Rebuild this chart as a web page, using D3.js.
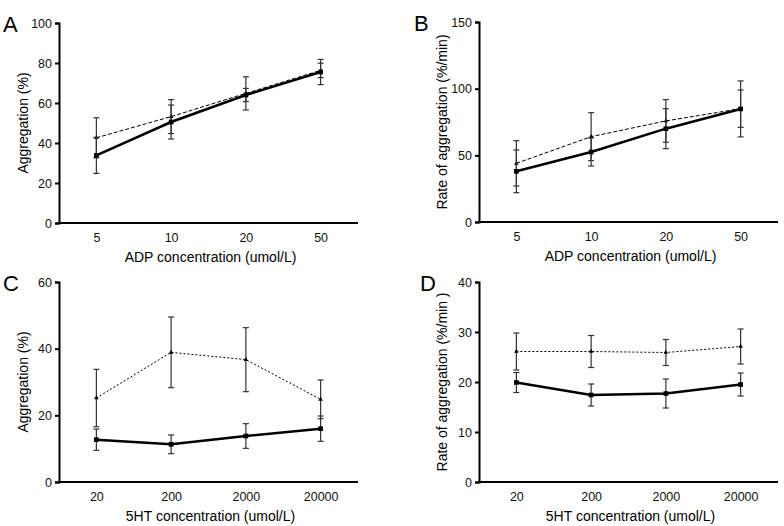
<!DOCTYPE html>
<html>
<head>
<meta charset="utf-8">
<script src="https://cdn.jsdelivr.net/npm/d3@7"></script>
<style>
  body { margin: 0; background: #fff; }
  svg text { font-family: "Liberation Sans", Arial, sans-serif; }
</style>
</head>
<body>
<div id="chart"></div>
<script>
// data
var adpLabels = ['5', '10', '20', '50'];
var htLabels = ['20', '200', '2000', '20000'];

var aSolid = [33.8, 50.5, 64.0, 75.5];
var aSolidErr = [9.0, 8.5, 3.3, 6.3];
var aDash = [42.6, 53.2, 64.8, 76.3];
var aDashErr = [10.0, 8.5, 8.3, 3.6];

var bSolid = [38, 52.5, 70, 84.8];
var bSolidErr = [16, 10.5, 15, 21];
var bDash = [44, 64, 75.8, 85];
var bDashErr = [17, 18, 16, 14];

var cSolid = [12.7, 11.3, 13.8, 16.0];
var cSolidErr = [3.2, 2.8, 3.7, 3.8];
var cDash = [25.2, 38.9, 36.7, 24.8];
var cDashErr = [8.6, 10.6, 9.6, 5.8];

var dSolid = [19.9, 17.4, 17.7, 19.5];
var dSolidErr = [2.0, 2.2, 2.9, 2.3];
var dDash = [26.1, 26.1, 25.9, 27.1];
var dDashErr = [3.7, 3.2, 2.6, 3.5];

var yTicksA = [0, 20, 40, 60, 80, 100];
var yTicksB = [0, 50, 100, 150];
var yTicksC = [0, 20, 40, 60];
var yTicksD = [0, 10, 20, 30, 40];

var svg = d3.select('#chart').append('svg')
    .attr('width', 784)
    .attr('height', 526);

function drawPanel(opt) {
  var g = svg.append('g');
  var x = d3.scalePoint().domain(opt.cats).range([opt.left, opt.right]).padding(0.5);
  var y = d3.scaleLinear().domain([0, opt.ymax]).range([opt.bottom, opt.top]);

  // y axis
  var ya = g.append('g')
    .attr('transform', 'translate(' + opt.left + ',0)')
    .call(d3.axisLeft(y).tickValues(opt.yticks).tickSize(4).tickPadding(3));
  ya.select('.domain').attr('stroke', '#000').attr('stroke-width', 2);
  ya.selectAll('.tick line').attr('stroke', '#000').attr('stroke-width', 2);
  ya.selectAll('text').style('font-size', '12.5px').attr('fill', '#111');

  // x axis, no tick marks
  var xa = g.append('g')
    .attr('transform', 'translate(0,' + opt.bottom + ')')
    .call(d3.axisBottom(x).tickSize(0).tickPadding(10));
  xa.select('.domain').attr('stroke', '#000').attr('stroke-width', 2)
    .attr('d', 'M' + (opt.left - 1) + ',0H' + opt.right);
  xa.selectAll('text').style('font-size', '12.5px').attr('fill', '#111');

  // titles
  g.append('text')
    .attr('x', (opt.left + opt.right) / 2 + 2)
    .attr('y', opt.bottom + 39)
    .attr('text-anchor', 'middle')
    .style('font-size', '14px')
    .text(opt.xtitle);

  g.append('text')
    .attr('transform', 'translate(' + opt.ytx + ',' + ((opt.top + opt.bottom) / 2) + ') rotate(-90)')
    .attr('text-anchor', 'middle')
    .style('font-size', '14px')
    .text(opt.ytitle);

  g.append('text')
    .attr('x', opt.lx)
    .attr('y', opt.top + 9)
    .style('font-size', '22px')
    .text(opt.letter);

  function series(vals, errs, dash, width, marker) {
    var pts = opt.cats.map(function(c, i) { return { c: c, v: vals[i], e: errs[i] }; });

    // error bars
    var eb = g.append('g').attr('stroke', '#333').attr('stroke-width', 1.2);
    pts.forEach(function(d) {
      var cx = x(d.c);
      eb.append('line').attr('x1', cx).attr('x2', cx)
        .attr('y1', y(d.v + d.e)).attr('y2', y(d.v - d.e));
      eb.append('line').attr('x1', cx - 3).attr('x2', cx + 3)
        .attr('y1', y(d.v + d.e)).attr('y2', y(d.v + d.e));
      eb.append('line').attr('x1', cx - 3).attr('x2', cx + 3)
        .attr('y1', y(d.v - d.e)).attr('y2', y(d.v - d.e));
    });

    var line = d3.line().x(function(d) { return x(d.c); }).y(function(d) { return y(d.v); });
    g.append('path').datum(pts)
      .attr('d', line)
      .attr('fill', 'none')
      .attr('stroke', '#000')
      .attr('stroke-width', width)
      .attr('stroke-dasharray', dash);

    g.selectAll(null).data(pts).enter().append('path')
      .attr('transform', function(d) { return 'translate(' + x(d.c) + ',' + y(d.v) + ')'; })
      .attr('d', d3.symbol().type(marker === 'square' ? d3.symbolSquare : d3.symbolTriangle)
        .size(marker === 'square' ? 22 : 9))
      .attr('fill', '#000');
  }

  series(opt.dash, opt.dashErr, opt.dashStyle, 1, 'triangle');
  series(opt.solid, opt.solidErr, null, 2.5, 'square');
}

drawPanel({
  letter: 'A', lx: 3, left: 59, right: 358, top: 23, bottom: 223, ymax: 100,
  yticks: yTicksA, cats: adpLabels, ytx: 28,
  xtitle: 'ADP concentration (umol/L)', ytitle: 'Aggregation (%)',
  solid: aSolid, solidErr: aSolidErr, dash: aDash, dashErr: aDashErr, dashStyle: '4,2'
});

drawPanel({
  letter: 'B', lx: 414, left: 479, right: 778, top: 22, bottom: 222, ymax: 150,
  yticks: yTicksB, cats: adpLabels, ytx: 447,
  xtitle: 'ADP concentration (umol/L)', ytitle: 'Rate of aggregation (%/min)',
  solid: bSolid, solidErr: bSolidErr, dash: bDash, dashErr: bDashErr, dashStyle: '4,2'
});

drawPanel({
  letter: 'C', lx: 3, left: 59, right: 358, top: 282, bottom: 482, ymax: 60,
  yticks: yTicksC, cats: htLabels, ytx: 28,
  xtitle: '5HT concentration (umol/L)', ytitle: 'Aggregation (%)',
  solid: cSolid, solidErr: cSolidErr, dash: cDash, dashErr: cDashErr, dashStyle: '2,2'
});

drawPanel({
  letter: 'D', lx: 420, left: 479, right: 778, top: 282, bottom: 482, ymax: 40,
  yticks: yTicksD, cats: htLabels, ytx: 447,
  xtitle: '5HT concentration (umol/L)', ytitle: 'Rate of aggregation (%/min )',
  solid: dSolid, solidErr: dSolidErr, dash: dDash, dashErr: dDashErr, dashStyle: '2,2'
});
</script>
</body>
</html>
